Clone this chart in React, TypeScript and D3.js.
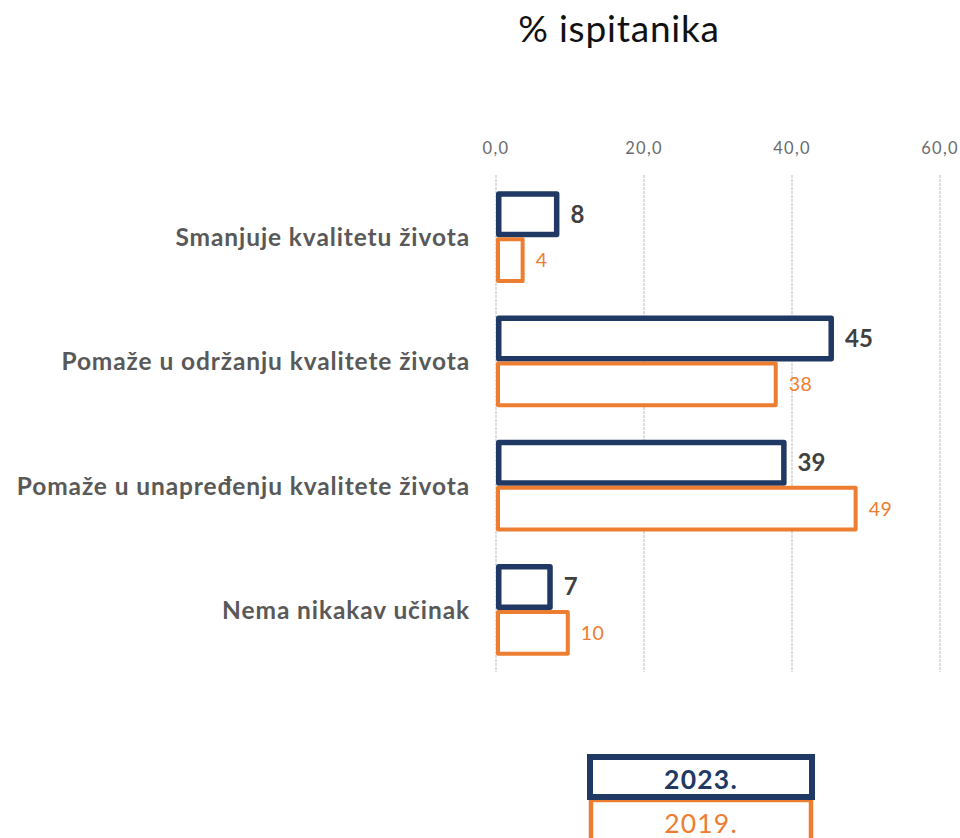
import React from "react";
import * as d3 from "d3";

const categories = [
  "Smanjuje kvalitetu života",
  "Pomaže u održanju kvalitete života",
  "Pomaže u unapređenju kvalitete života",
  "Nema nikakav učinak",
];
const series = ["2023.", "2019."];
const values2023 = [8.2, 45.3, 38.9, 7.3];
const values2019 = [3.6, 37.8, 48.6, 9.7];
const labels2023 = ["8", "45", "39", "7"];
const labels2019 = ["4", "38", "49", "10"];
const xTicks = [0, 20, 40, 60];
const title = "% ispitanika";

const NAVY = "#203864";
const ORANGE = "#ED7D31";
const FONT = "Lato, 'Open Sans', sans-serif";

export default function App() {
  const W = 960;
  const H = 838;
  const x = d3.scaleLinear().domain([0, 60]).range([496, 940]);
  const y = d3
    .scaleBand<string>()
    .domain(categories)
    .range([175, 672])
    .paddingInner(0.26)
    .paddingOuter(0.13);
  const sub = d3.scaleBand<string>().domain(series).range([0, y.bandwidth()]);
  const fmt = (v: number) => d3.format(".1f")(v).replace(".", ",");

  const swN = 5.5;
  const swO = 4;

  return (
    <svg
      width={W}
      height={H}
      style={{ position: "absolute", left: 0, top: 0, background: "#fff" }}
      fontFamily={FONT}
    >
      <text x={619} y={42} textAnchor="middle" fontSize={37} letterSpacing={0.8} fill="#111">
        {title}
      </text>

      {xTicks.map((t) => (
        <g key={t}>
          <line
            x1={x(t)}
            x2={x(t)}
            y1={175}
            y2={672}
            stroke="#cfcfcf"
            strokeWidth={1.4}
            strokeDasharray="3 1"
          />
          <text
            x={x(t)}
            y={154}
            textAnchor="middle"
            fontSize={16.5}
            letterSpacing={1.3}
            fill="#6b6b6b"
          >
            {fmt(t)}
          </text>
        </g>
      ))}

      {categories.map((c, i) => {
        const top = y(c)!;
        const center = top + y.bandwidth() / 2;
        const yN = top + sub("2023.")!;
        const yO = top + sub("2019.")!;
        const hN = sub.bandwidth();
        return (
          <g key={c}>
            <text
              x={470}
              y={center + 9}
              textAnchor="end"
              fontSize={24.5}
              letterSpacing={0.9}
              fontWeight="bold"
              fill="#595959"
            >
              {c}
            </text>
            <rect
              x={x(0) + swN / 2}
              y={yN + swN / 2}
              width={x(values2023[i]) - x(0) - swN / 2}
              height={hN - swN}
              fill="#fff"
              stroke={NAVY}
              strokeWidth={swN}
              strokeLinejoin="round"
            />
            <rect
              x={x(0) + swO / 2}
              y={yO + swO / 2}
              width={x(values2019[i]) - x(0) - swO / 2}
              height={hN - swO}
              fill="#fff"
              stroke={ORANGE}
              strokeWidth={swO}
              strokeLinejoin="round"
            />
            <text
              x={x(values2023[i]) + swN / 2 + 11}
              y={yN + hN / 2 + 8.5}
              fontSize={24}
              fontWeight="bold"
              fill="#404040"
            >
              {labels2023[i]}
            </text>
            <text
              x={x(values2019[i]) + swO / 2 + 11}
              y={yO + hN / 2 + 7}
              fontSize={19.5}
              letterSpacing={0.5}
              fill={ORANGE}
            >
              {labels2019[i]}
            </text>
          </g>
        );
      })}

      <rect x={591} y={800} width={220} height={50} fill="#fff" stroke={ORANGE} strokeWidth={4.5} />
      <rect x={590} y={757} width={222} height={40} fill="#fff" stroke={NAVY} strokeWidth={6} />
      <text
        x={701}
        y={789}
        textAnchor="middle"
        fontSize={26.5}
        letterSpacing={1.2}
        fontWeight="bold"
        fill={NAVY}
      >
        {series[0]}
      </text>
      <text
        x={701}
        y={833}
        textAnchor="middle"
        fontSize={26.5}
        letterSpacing={1.2}
        fill={ORANGE}
      >
        {series[1]}
      </text>
    </svg>
  );
}
